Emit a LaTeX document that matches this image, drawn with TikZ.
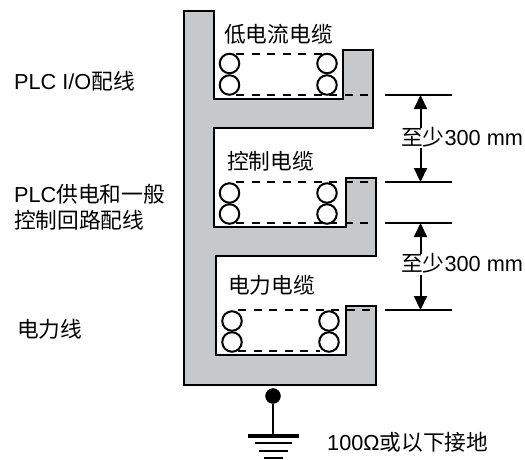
\documentclass[tikz,border=0pt]{standalone}
\usepackage{fontspec}
\setmainfont{Liberation Sans}
\newfontfamily\cjk{Noto Sans CJK SC}
\usetikzlibrary{arrows.meta}
\definecolor{shade}{RGB}{199,200,202}
\tikzset{
 x=1pt,y=-1pt,
 wall/.style={draw=black,line width=2.2pt,fill=shade,line join=miter},
 coil/.style={draw=black,line width=2pt,circle,inner sep=0pt,minimum size=19.5pt},
 tray/.style={draw=black,line width=1.8pt,dash pattern=on 8pt off 7.5pt},
 dimline/.style={draw=black,line width=2pt},
 dimarrow/.style={draw=black,line width=2pt,-{Triangle[length=14pt,width=13pt]}},
 lab/.style={inner sep=0pt,anchor=west,font=\fontsize{21.7}{24}\selectfont,text=black},
 bar/.style={draw=black,line width=2pt},
}
\begin{document}
\begin{tikzpicture}
\useasboundingbox (0,0) rectangle (525,459);
\draw[wall] (184,11) -- (214,11) -- (214,99) -- (343,99) -- (343,50) -- (373,50) -- (373,128) -- (214,128) -- (214,227) -- (346,227) -- (346,178) -- (376,178) -- (376,256) -- (216,256) -- (216,355) -- (346,355) -- (346,306) -- (376,306) -- (376,385) -- (184,385) -- cycle;
% cables
\foreach \n/\cx/\ya/\yb in {a/229.5/63.5/85,b/229.5/193/214,c/232/321/342}{
  \node[coil] (\n1) at (\cx,\ya) {};
  \node[coil] (\n2) at (\cx,\yb) {};
}
\foreach \n/\cx/\ya/\yb in {d/327/63.5/85,e/327/193/214,f/329/321/342}{
  \node[coil] (\n1) at (\cx,\ya) {};
  \node[coil] (\n2) at (\cx,\yb) {};
}
% trays
\coordinate (t1a) at (236,53.7); \coordinate (t1b) at (322,53.7);
\coordinate (t2a) at (236,95); \coordinate (t2b) at (373,95);
\coordinate (t3a) at (236,182); \coordinate (t3b) at (376,182);
\coordinate (t4a) at (236,223); \coordinate (t4b) at (376,223);
\coordinate (t5a) at (238,310); \coordinate (t5b) at (376,310);
\coordinate (t6a) at (238,351); \coordinate (t6b) at (320,351);
\draw[tray] (t1a) -- (t1b);
\draw[tray] (t2a) -- (t2b);
\draw[tray] (t3a) -- (t3b);
\draw[tray] (t4a) -- (t4b);
\draw[tray] (t5a) -- (t5b);
\draw[tray] (t6a) -- (t6b);
% dimensions
\foreach \n/\y in {p/95,q/182,r/223,s/310}{
  \coordinate (\n l) at (385,\y); \coordinate (\n r) at (452,\y);
  \coordinate (\n m) at (420.5,\y);
  \draw[dimline] (\n l) -- (\n r);
}
\node[lab] (d1) at (401,137.5) {{\cjk 至少}300 mm};
\node[lab] (d2) at (401,263.5) {{\cjk 至少}300 mm};
\coordinate (d1u) at (420.5,128); \coordinate (d1d) at (420.5,148);
\coordinate (d2u) at (420.5,254); \coordinate (d2d) at (420.5,275);
\draw[dimarrow] (d1u) -- (pm);
\draw[dimarrow] (d1d) -- (qm);
\draw[dimarrow] (d2u) -- (rm);
\draw[dimarrow] (d2d) -- (sm);
% labels
\node[lab] (l1) at (224,34) {\cjk 低电流电缆};
\node[lab] (l2) at (227,161) {\cjk 控制电缆};
\node[lab] (l3) at (228,285.5) {\cjk 电力电缆};
\node[lab] (w1) at (14,81) {PLC I/O{\cjk 配线}};
\node[lab] (w2) at (14,194) {PLC{\cjk 供电和一般}};
\node[lab] (w3) at (14,220) {\cjk 控制回路配线};
\node[lab] (w4) at (17,329) {\cjk 电力线};
\node[lab] (g) at (327,442) {100Ω{\cjk 或以下接地}};
% ground
\node[circle,fill=black,draw=black,inner sep=0pt,minimum size=15pt] (gd) at (273,396) {};
\coordinate (g0) at (273,436);
\coordinate (g1a) at (248,436); \coordinate (g1b) at (298.5,436);
\coordinate (g2a) at (255,443); \coordinate (g2b) at (292,443);
\coordinate (g3a) at (259,451); \coordinate (g3b) at (288,451);
\coordinate (g4a) at (264,458); \coordinate (g4b) at (283,458);
\draw[dimline] (gd) -- (g0);
\draw[bar,line width=4.5pt] (g1a) -- (g1b);
\draw[bar] (g2a) -- (g2b);
\draw[bar] (g3a) -- (g3b);
\draw[bar] (g4a) -- (g4b);
\end{tikzpicture}
\end{document}
